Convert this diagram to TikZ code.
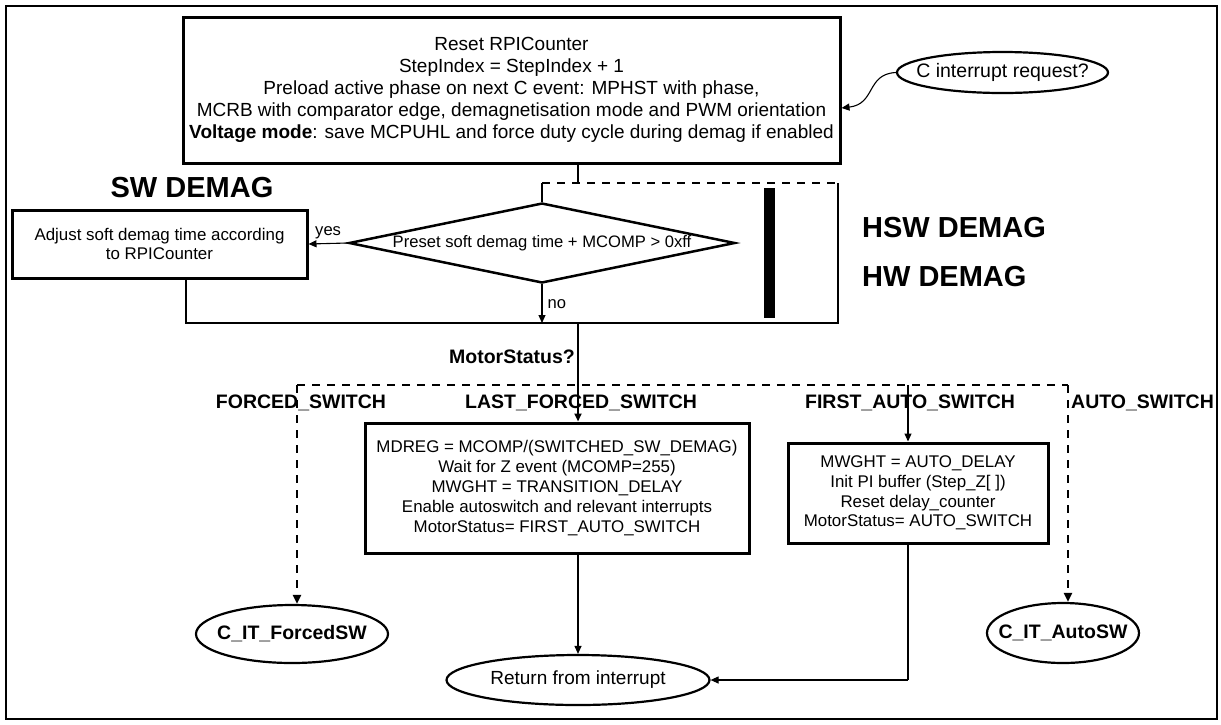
\documentclass[tikz,border=0pt]{standalone}
\usepackage{fontspec}
\setmainfont{Liberation Sans}
\usetikzlibrary{shapes.geometric, arrows.meta, calc}

\tikzstyle{arrow} = [
    line width=1.1pt,
    -{Triangle[length=8pt,width=7pt]},
    draw=black
]

\begin{document}
\begin{tikzpicture}[
    x=1pt, y=-1pt,
    box/.style={
        draw,
        line width=3pt,
        inner sep=0pt,
        align=center,
        font=\fontsize{16.9}{19.8}\selectfont
    },
    term/.style={
        draw,
        ellipse,
        line width=2.2pt,
        inner sep=0pt,
        execute at begin node={\hbox to 0pt\bgroup\hss},
        execute at end node={\hss\egroup}
    },
    decision/.style={
        draw,
        diamond,
        aspect=4.8,
        line width=2.5pt,
        inner sep=0pt,
        minimum width=386pt,
        minimum height=80pt,
        font=\fontsize{16.6}{19.5}\selectfont
    },
    lbl/.style={inner sep=0pt, font=\fontsize{19.5}{22}\selectfont\bfseries},
    biglbl/.style={inner sep=0pt, font=\fontsize{29}{34}\selectfont\bfseries},
    small/.style={inner sep=0pt, font=\fontsize{16.6}{19.5}\selectfont},
    thickline/.style={line width=2.5pt},
    thickarrow/.style={arrow, line width=2.2pt},
    dashline/.style={line width=2.8pt, dash pattern=on 8pt off 7pt},
    dasharrow/.style={dashline, -{Triangle[length=9pt,width=8pt]}}
]
\useasboundingbox (0,0) rectangle (1221,724);
\draw[line width=2.2pt] (6,6) rectangle (1217,719);

% Nodes
\node[box, minimum width=657pt, minimum height=146pt, font=\fontsize{19}{22}\selectfont] (reset) at (511.5,90) {Reset RPICounter\\
    StepIndex = StepIndex + 1\\
    Preload active phase on next C event: MPHST with phase,\\
    MCRB with comparator edge, demagnetisation mode and PWM orientation\\
    \textbf{Voltage mode}: save MCPUHL and force duty cycle during demag if enabled};
\node[term, minimum width=211pt, minimum height=41pt, font=\fontsize{19.5}{22}\selectfont] (creq) at (1002.5,72.5) {C interrupt request?};

\node[biglbl] (swdemag) at (192,188) {SW DEMAG};
\node[biglbl, anchor=west] (hswdemag) at (862,228) {HSW DEMAG};
\node[biglbl, anchor=west] (hwdemag) at (862,277) {HW DEMAG};

\node[box, minimum width=295pt, minimum height=68pt] (adjust) at (159.5,244) {Adjust soft demag time according\\to RPICounter};
\node[decision] (test) at (542,243) {Preset soft demag time + MCOMP > 0xff};

\coordinate (jtop) at (578,183);
\coordinate (hwtop) at (838,183);
\coordinate (hwbot) at (838,323);
\coordinate (swbot) at (186,323);
\coordinate (mjoin) at (578,323);
\coordinate (fsw) at (297,385);
\coordinate (asw) at (1068,385);
\coordinate (fauto) at (908,385);

\node[lbl, anchor=east] (mstat) at (575,357) {MotorStatus?};
\node[lbl] (lforced) at (301,403) {FORCED\_SWITCH};
\node[lbl] (llast) at (581,403) {LAST\_FORCED\_SWITCH};
\node[lbl] (lfirst) at (910,403) {FIRST\_AUTO\_SWITCH};
\node[lbl, anchor=west] (lauto) at (1071,403) {AUTO\_SWITCH};

\node[box, minimum width=384pt, minimum height=130pt] (last) at (557,488) {MDREG = MCOMP/(SWITCHED\_SW\_DEMAG)\\
    Wait for Z event (MCOMP=255)\\
    MWGHT = TRANSITION\_DELAY\\
    Enable autoswitch and relevant interrupts\\
    MotorStatus= FIRST\_AUTO\_SWITCH};
\node[box, minimum width=260pt, minimum height=100pt] (first) at (918,493) {MWGHT = AUTO\_DELAY\\
    Init PI buffer (Step\_Z[ ])\\
    Reset delay\_counter\\
    MotorStatus= AUTO\_SWITCH};

\node[term, minimum width=192pt, minimum height=58pt, font=\fontsize{19.5}{22}\selectfont\bfseries] (forced) at (292,634) {C\_IT\_ForcedSW};
\node[term, minimum width=152pt, minimum height=60pt, font=\fontsize{19.5}{22}\selectfont\bfseries] (autosw) at (1063,633) {C\_IT\_AutoSW};
\node[term, minimum width=263pt, minimum height=50pt, font=\fontsize{19}{22}\selectfont] (ret) at (578,680) {Return from interrupt};

% demag block
\fill (764,188) rectangle (775,318);
\draw[arrow] (creq.west) .. controls (866,74) and (876,104) .. ($(reset.east)+(0,18)$);
\draw[thickline] (jtop |- reset.south) -- (jtop);
\draw[dashline] (test.north |- jtop) -- (hwtop);
\draw[thickline] (test.north) -- (test.north |- jtop);
\draw[thickline] (hwtop) -- (hwbot) -- (swbot) -- (swbot |- adjust.south);
\draw[arrow] (test.west) -- (adjust.east) node[small, midway, above=4pt] {yes};
\draw[arrow] (test.south) -- (test.south |- hwbot) node[small, midway, right=5pt] {no};

% Arrows
\draw[thickline] (jtop |- hwbot) -- (mjoin);
\draw[thickarrow] (mjoin) -- (mjoin |- last.north);
\draw[dashline] (fsw) -- (asw);
\foreach \from/\to in {fsw/forced, asw/autosw} {
    \draw[dasharrow] (\from) -- (\from |- \to.north);
}
\draw[arrow] (fauto) -- (fauto |- first.north);
\draw[arrow] (mjoin |- last.south) -- (ret.north);
\draw[thickline] (fauto |- first.south) -- (fauto |- ret.east);
\draw[arrow] (fauto |- ret.east) -- (ret.east);
\end{tikzpicture}
\end{document}
